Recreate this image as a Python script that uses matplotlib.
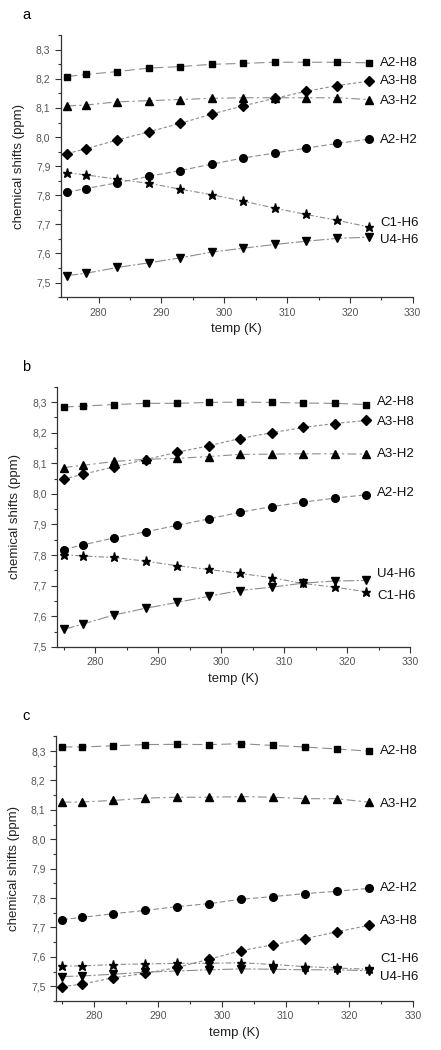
import numpy as np
import matplotlib as mpl
mpl.use("Agg")
from matplotlib import pylab as plt
from matplotlib.ticker import MultipleLocator, FuncFormatter

plt.rcParams['font.family'] = ['Liberation Sans', 'DejaVu Sans']

temp = [275, 278, 283, 288, 293, 298, 303, 308, 313, 318, 323]
names = ['A2-H8', 'A3-H8', 'A3-H2', 'A2-H2', 'C1-H6', 'U4-H6']

# panel a
a_A2H8 = [8.208, 8.215, 8.225, 8.237, 8.242, 8.250, 8.253, 8.257, 8.257, 8.257, 8.255]
a_A3H8 = [7.943, 7.960, 7.990, 8.018, 8.047, 8.079, 8.107, 8.133, 8.157, 8.177, 8.192]
a_A3H2 = [8.107, 8.110, 8.121, 8.125, 8.129, 8.133, 8.135, 8.135, 8.135, 8.135, 8.129]
a_A2H2 = [7.811, 7.823, 7.843, 7.865, 7.885, 7.907, 7.928, 7.945, 7.962, 7.978, 7.993]
a_C1H6 = [7.877, 7.870, 7.855, 7.841, 7.821, 7.802, 7.780, 7.756, 7.734, 7.714, 7.691]
a_U4H6 = [7.524, 7.532, 7.552, 7.568, 7.585, 7.605, 7.618, 7.631, 7.642, 7.652, 7.656]

# panel b
b_A2H8 = [8.284, 8.287, 8.292, 8.296, 8.296, 8.299, 8.300, 8.299, 8.297, 8.296, 8.292]
b_A3H8 = [8.048, 8.064, 8.088, 8.112, 8.136, 8.157, 8.181, 8.200, 8.217, 8.230, 8.240]
b_A3H2 = [8.086, 8.093, 8.106, 8.113, 8.116, 8.122, 8.129, 8.130, 8.131, 8.131, 8.130]
b_A2H2 = [7.818, 7.833, 7.856, 7.876, 7.897, 7.918, 7.940, 7.958, 7.973, 7.986, 7.997]
b_C1H6 = [7.801, 7.797, 7.792, 7.780, 7.765, 7.753, 7.740, 7.726, 7.707, 7.695, 7.680]
b_U4H6 = [7.557, 7.574, 7.604, 7.626, 7.645, 7.665, 7.684, 7.695, 7.708, 7.715, 7.717]

# panel c
c_A2H8 = [8.314, 8.314, 8.318, 8.322, 8.323, 8.322, 8.325, 8.319, 8.314, 8.307, 8.300]
c_A3H8 = [7.499, 7.507, 7.529, 7.544, 7.564, 7.592, 7.621, 7.641, 7.662, 7.685, 7.707]
c_A3H2 = [8.126, 8.127, 8.132, 8.140, 8.143, 8.143, 8.145, 8.143, 8.138, 8.138, 8.126]
c_A2H2 = [7.727, 7.734, 7.747, 7.758, 7.771, 7.781, 7.796, 7.805, 7.815, 7.823, 7.833]
c_C1H6 = [7.569, 7.569, 7.574, 7.576, 7.578, 7.578, 7.580, 7.574, 7.567, 7.562, 7.558]
c_U4H6 = [7.533, 7.535, 7.541, 7.548, 7.552, 7.556, 7.559, 7.558, 7.556, 7.556, 7.553]

# label heights at the right end of each series
a_label_y = [8.254, 8.194, 8.125, 7.990, 7.706, 7.645]
b_label_y = [8.300, 8.235, 8.131, 8.002, 7.665, 7.737]
c_label_y = [8.299, 7.722, 8.120, 7.833, 7.593, 7.533]

markers = ['s', 'D', '^', 'o', '*', 'v']
msizes = [5, 5.5, 5.5, 5.5, 6.5, 6]
dashes = [(9, 4), (3, 2), (8, 3, 2, 3), (5, 2.5), (5, 2, 1.5, 2), (10, 2, 2, 2)]


def draw_panel(ax, series, label_y, ylim, letter):
    for i, ys in enumerate(series):
        ax.plot(temp, ys, color='#8c8c8c', lw=0.8, dashes=dashes[i],
                marker=markers[i], ms=msizes[i], mfc='black', mec='black',
                zorder=3)
        ax.text(324.8, label_y[i], names[i], fontsize=9.5, ha='left',
                va='center', color='#111111')
    ax.set_xlim(274, 330)
    ax.set_ylim(*ylim)
    ax.xaxis.set_major_locator(MultipleLocator(10))
    ax.xaxis.set_minor_locator(MultipleLocator(5))
    ax.yaxis.set_major_locator(MultipleLocator(0.1))
    ax.yaxis.set_minor_locator(MultipleLocator(0.05))
    ax.yaxis.set_major_formatter(FuncFormatter(lambda v, p: f'{v:.1f}'.replace('.', ',')))
    for s in ['top', 'right']:
        ax.spines[s].set_visible(False)
    for s in ['left', 'bottom']:
        ax.spines[s].set_color('#333333')
        ax.spines[s].set_linewidth(0.9)
    ax.tick_params(which='major', length=4, width=0.8, color='#333333',
                   labelsize=7.5, labelcolor='#555555')
    ax.tick_params(which='minor', length=2.5, width=0.8, color='#333333')
    ax.set_xlabel('temp (K)', fontsize=9.5, color='#222222', labelpad=4)
    ax.set_ylabel('chemical shifts (ppm)', fontsize=9.5, color='#222222', labelpad=8)
    ax.figure.text(0.05, ax.get_position().y1 + 0.019, letter, fontsize=10.5,
                   ha='left', va='center')


fig = plt.figure(figsize=[4.41, 10.5], dpi=100)
ax_a = fig.add_axes([0.138, 0.717, 0.798, 0.2495])
ax_b = fig.add_axes([0.130, 0.384, 0.800, 0.2476])
ax_c = fig.add_axes([0.127, 0.0467, 0.810, 0.252])

draw_panel(ax_a, [a_A2H8, a_A3H8, a_A3H2, a_A2H2, a_C1H6, a_U4H6], a_label_y, (7.45, 8.35), 'a')
draw_panel(ax_b, [b_A2H8, b_A3H8, b_A3H2, b_A2H2, b_C1H6, b_U4H6], b_label_y, (7.5, 8.35), 'b')
draw_panel(ax_c, [c_A2H8, c_A3H8, c_A3H2, c_A2H2, c_C1H6, c_U4H6], c_label_y, (7.45, 8.35), 'c')

plt.savefig('out.png', dpi=100)
plt.close()
